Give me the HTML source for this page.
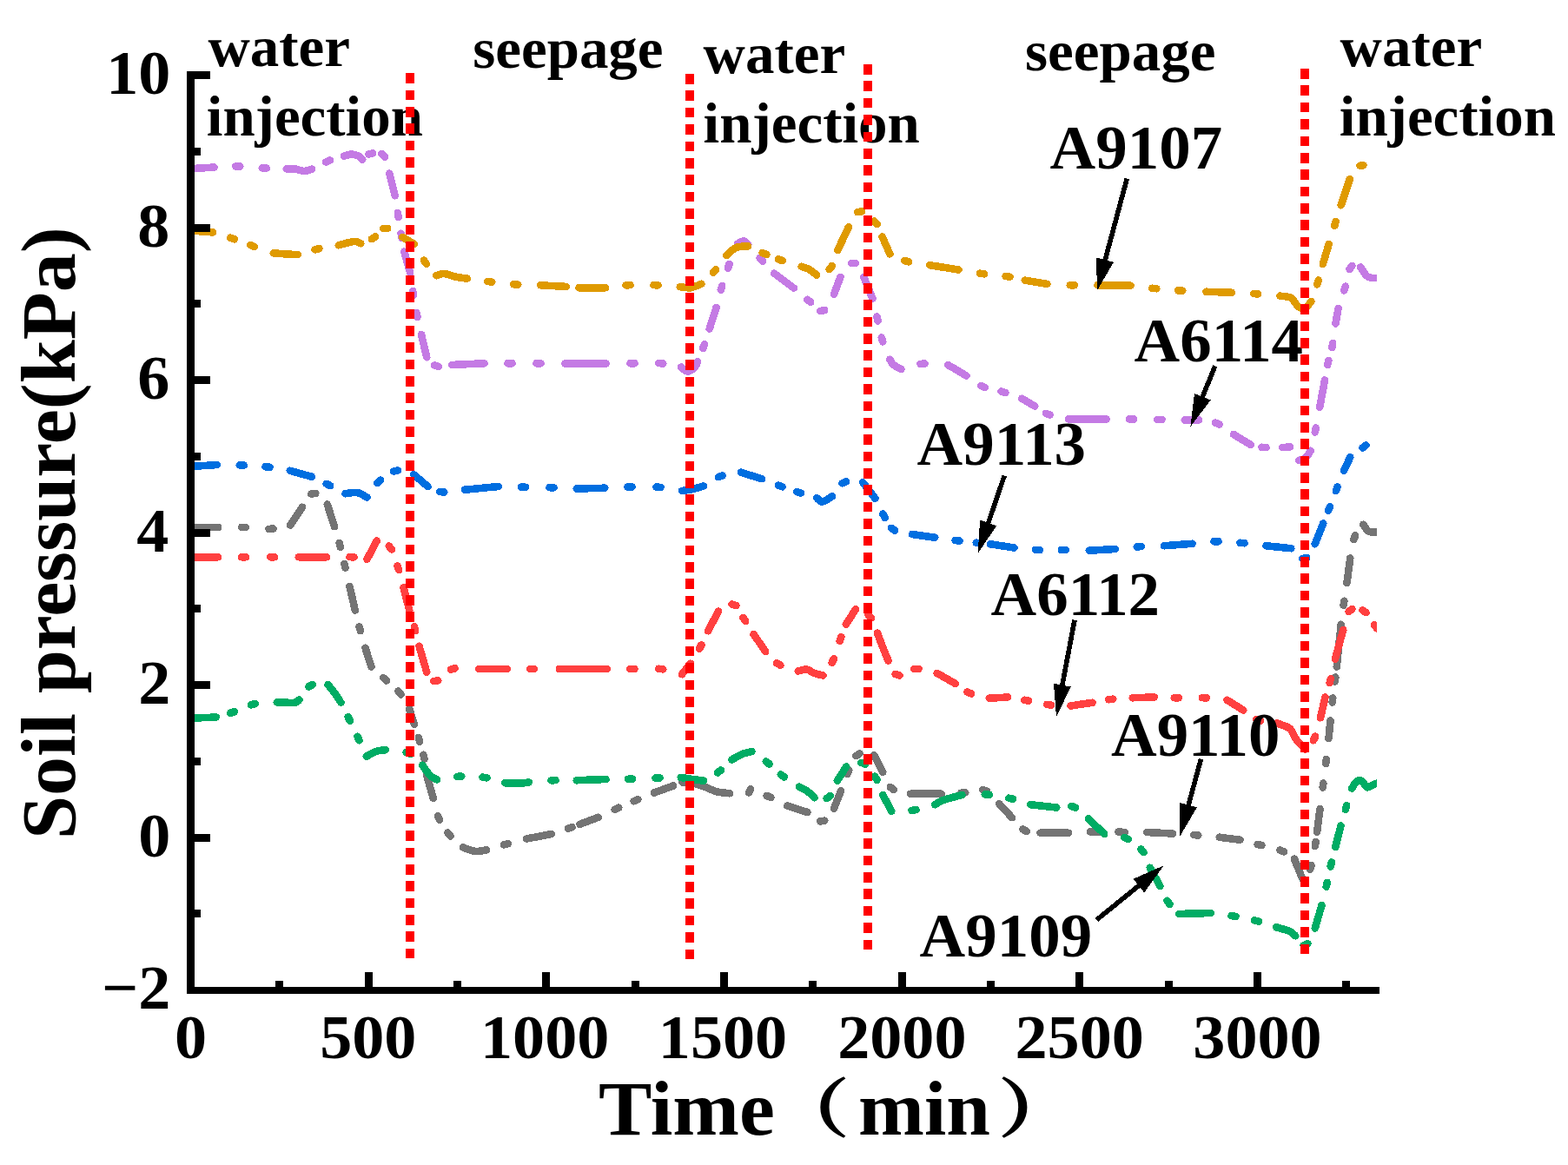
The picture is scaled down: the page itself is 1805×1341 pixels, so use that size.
<!DOCTYPE html>
<html lang="en">
<head>
<meta charset="utf-8">
<title>Soil pressure vs. time</title>
<style>
html,body{margin:0;padding:0;background:#ffffff;}
body{width:1805px;height:1341px;overflow:hidden;}
svg{display:block;}
text{font-family:"Liberation Serif","Noto Serif CJK SC",serif;font-weight:bold;fill:#000;}
.tk{font-size:72px;}
.an{font-size:65px;}
.lb{font-size:71.5px;}
.ax{font-size:88.5px;}
.tm{font-size:88.5px;}
.pr{font-size:73px;}
.pr{font-family:"Liberation Serif","Noto Serif CJK SC",serif;stroke:#000;stroke-width:1.2px;}
</style>
</head>
<body>
<svg width="1805" height="1341" viewBox="0 0 1805 1341">
<rect x="0" y="0" width="1805" height="1341" fill="#ffffff"/>
<defs><clipPath id="plot"><rect x="219" y="60" width="1366" height="1080"/></clipPath></defs>
<g id="curves" clip-path="url(#plot)" fill="none" stroke-linecap="round" stroke-linejoin="round" stroke-width="8.6" shape-rendering="crispEdges">
<path id="c-gray" stroke="#747474" d="M220 607 L251.25 607 M278 606.93 L283 607.07 M309.5 608.87 L314.5 608.63 M334.25 604.5 L348 583.75 M358.27 568.53 L363.23 567.97 M376.75 580.5 L385 606.25 M390.61 625.08 L391.89 629.92 M396.42 648.82 L397.58 653.68 M402.5 675 L408.75 702.5 M413.59 721.34 L414.91 726.16 M420.5 745.75 L427.5 767.5 M441.16 780.05 L444.84 783.45 M458.42 795.57 L461.58 799.43 M471.25 816.25 L477 833.75 M481.8 848.85 L483.2 853.65 M487.48 868.8 L488.52 873.7 M491.25 892.5 L498.75 918.75 M504 938.96 L506 943.54 M515.42 958.56 L518.58 962.44 M533 975.5 C535.42 976.25 543 979.54 547.5 980 C552 980.46 557.92 978.54 560 978.25 M580.09 972.41 L584.91 971.09 M606.25 965.5 L635 960 M653.89 953.82 L658.61 952.18 M667.5 948.75 L688.75 940.75 M707.72 931.78 L712.28 929.72 M729.7 922.23 L734.3 920.27 M753 912.5 L775 904.5 M785.5 900.5 C787.92 900.75 795.29 900.96 800 902 C804.71 903.04 809.58 905.21 813.75 906.75 C817.92 908.29 820.62 910.17 825 911.25 C829.38 912.33 837.5 912.92 840 913.25 M862 912.3 L864 908.2 M882.73 915.96 L887.27 918.04 M906.25 927.5 L929.5 935 M944.27 945.35 L949.23 944.65 M960 930.75 L968 910.5 M975.19 891.02 L977.31 886.48 M985.4 870.11 L989.6 867.39 M1006.25 869.25 L1016.25 888.75 M1024.79 905.95 L1028.71 909.05 M1048 913.75 L1083.75 913.75 M1106.26 912.69 L1111.24 912.31 M1131.36 909.27 L1136.14 910.73 M1150 925 L1165 941.25 M1177.3 954.56 L1181.7 956.94 M1197.5 958.75 L1230 958.75 M1255 957.5 L1265 958 M1287.5 957.5 L1295 958 M1320 958 L1350 959.5 M1374.26 961.05 L1379.24 961.45 M1403.75 963.75 L1427.5 966.75 M1447.58 971.86 L1452.42 973.14 M1473.43 978.56 L1478.07 980.44 M1490 988.75 C1491.46 992.29 1496.88 1005.88 1498.75 1010 C1500.62 1014.12 1500.83 1012.92 1501.25 1013.5 M1508.01 1000.89 L1509.49 996.11 M1513.81 973.96 L1514.69 969.04 M1516 958 L1519.5 931.25 M1522.68 906.48 L1523.32 901.52 M1526.2 878.98 L1526.8 874.02 M1529.5 850 L1531.5 829.5 M1533.71 808.48 L1534.29 803.52 M1536.69 784.48 L1537.31 779.52 M1538.75 767.5 L1543.75 718.75 M1546.65 696.73 L1547.35 691.77 M1550.5 671 L1554.25 642.5 M1558.35 621.08 L1560.15 616.42 M1569.25 603.75 C1570.42 605.12 1572.79 610.54 1576.25 612 C1579.71 613.46 1587.71 612.42 1590 612.5"/>
<path id="c-lred" stroke="#FF4040" d="M220 641.25 L251.25 641.25 M278 641.25 L283 641.25 M311.25 641.25 L316.25 641.25 M343.75 641.25 L376.25 641.25 M402.5 641.12 L407.5 641.38 M422.5 643.75 L433.75 622.5 M447.71 628.53 L450.79 632.47 M457.46 651.38 L459.04 656.12 M464.5 676.25 L471.25 702.5 M476.84 721.34 L478.16 726.16 M482.5 743.75 L491.25 773.75 M499.27 784.06 L504.23 783.44 M518.84 770.67 L523.66 769.33 M551.25 770 L583.75 770 M610 770 L615 770 M643.75 770 L698.75 770 M725.5 770 L730.5 770 M758.26 769.73 L763.24 770.27 M785 776.25 L795 763.75 M805.07 746.71 L807.43 742.29 M815 726.25 L827 703.75 M842.61 695.51 L847.39 696.99 M855.36 710.92 L858.14 715.08 M867.5 730 L881.25 750 M894.11 763.21 L898.39 765.79 M918.75 772.5 C920.42 772.17 925.62 770.08 928.75 770.5 C931.88 770.92 934.38 773.83 937.5 775 C940.62 776.17 945.83 777.08 947.5 777.5 M957.68 762.76 L959.82 758.24 M966.65 737.85 L968.35 733.15 M973.75 718.75 L985 701.25 M999.57 707.65 L1002.93 711.35 M1010 728.75 C1011.04 731.46 1014.17 739.71 1016.25 745 C1018.33 750.29 1021.46 757.92 1022.5 760.5 M1030.6 776.05 L1035.4 777.45 M1052.5 770.1 L1057.5 769.9 M1078.75 775 L1100 787 M1113.46 796.51 L1118.04 798.49 M1138.75 803.75 L1160 802.5 M1179.29 805.8 L1184.21 806.7 M1205.02 810.94 L1209.98 811.56 M1232.5 812.5 L1257.5 808.75 M1276.27 805.3 L1281.23 804.7 M1303.75 803.25 L1328.75 802.5 M1351.75 803.22 L1356.75 803.28 M1383.75 803.14 L1388.75 803.36 M1412.5 805.75 L1431.25 817.5 M1446.42 827.85 L1451.08 829.65 M1470 832.5 C1472.5 833.54 1481.46 835.83 1485 838.75 C1488.54 841.67 1488.33 846.04 1491.25 850 C1494.17 853.96 1500.62 860.42 1502.5 862.5 M1511.91 852.25 L1514.09 847.75 M1520 826.25 L1525.5 802.5 M1530.61 786.17 L1531.89 781.33 M1537 758.75 C1537.5 756.88 1538.46 753.12 1540 747.5 C1541.54 741.88 1545.21 728.75 1546.25 725 M1552.62 704.15 L1556.38 700.85 M1568.4 702.39 L1572.6 705.11 M1582.01 719.24 L1584.99 723.26"/>
<path id="c-blue" stroke="#006EE0" d="M220 537 L250 535 M275.75 535.39 L280.75 535.61 M305.52 537.22 L310.48 537.78 M333.75 541.75 L358.75 548.75 M375.77 556.88 L380.23 559.12 M397.5 568.25 C399.79 568.04 407.08 566.29 411.25 567 C415.42 567.71 420.62 571.58 422.5 572.5 M434.41 555.95 L438.09 552.55 M453.05 542.49 L457.95 541.51 M476.25 546.25 L492.5 560 M506.26 566.03 L511.24 566.47 M535 563.75 L573.75 560 M600 560.7 L605 560.8 M632.5 561.18 L637.5 561.32 M663.75 562.5 L696.25 561.75 M722.5 560.54 L727.5 560.46 M755.51 560.56 L760.49 560.94 M785 565 C787.08 564.67 793.33 563.92 797.5 563 C801.67 562.08 807.92 560.08 810 559.5 M826.9 549.11 L831.6 547.39 M853 543.75 L877 551.25 M895.9 558.64 L900.6 560.36 M917.12 565.98 L921.88 567.52 M940 573 C941.12 573.75 943.75 577.79 946.75 577.5 C949.75 577.21 956.12 572.29 958 571.25 M969.48 556.3 L974.02 554.2 M993 555 L1007.5 573.75 M1016.25 591.59 L1018.75 595.91 M1025.91 607.88 L1030.09 610.62 M1050 615 L1076.25 618.75 M1099.52 621.94 L1104.48 622.56 M1123.76 624.74 L1128.74 625.26 M1140 626.25 L1167.5 630.5 M1192 632.89 L1197 633.11 M1221.75 632.97 L1226.75 633.03 M1253.75 633.75 L1283.75 632 M1308.76 629.42 L1313.74 629.08 M1340 628.25 L1372.5 625.75 M1397.5 623.28 L1402.5 623.22 M1427.51 624.78 L1432.49 625.22 M1457.5 628.25 L1486.25 631.25 M1499.29 642.95 L1504.21 642.05 M1513.75 626.25 L1523.25 602.5 M1529.09 587.83 L1530.91 583.17 M1537.84 565.08 L1539.66 560.42 M1547 542 L1554.25 526.25 M1568.5 515.5 L1572.5 512.5"/>
<path id="c-green" stroke="#00AC64" d="M220 826.75 L248.75 825.5 M265.14 820.82 L269.86 819.18 M288.81 811.31 L293.69 810.19 M318.75 808.25 C322.08 808.33 334.46 809.21 338.75 808.75 C343.04 808.29 343.54 806.04 344.5 805.5 M355.29 790.42 L359.71 788.08 M377.5 788 C378.75 789.58 382.5 794.04 385 797.5 C387.5 800.96 391.25 806.88 392.5 808.75 M400.66 825.25 L402.84 829.75 M411.45 847.73 L413.55 852.27 M421.75 870.75 C423.54 869.79 428.83 866.25 432.5 865 C436.17 863.75 441.88 863.54 443.75 863.25 M467.69 866.05 L472.31 867.95 M486.25 880.75 C487.71 882.71 492.21 889.71 495 892.5 C497.79 895.29 501.67 896.67 503 897.5 M526.25 893.86 L531.25 893.64 M555.53 894.65 L560.47 895.35 M581.25 901.25 C583.96 901.33 592.92 901.88 597.5 901.75 C602.08 901.62 606.88 900.71 608.75 900.5 M634.5 898.35 L639.5 898.15 M663.75 898.25 L697.5 897 M723 896.81 L728 896.69 M754.5 895.58 L759.5 895.42 M783.75 895 C786.04 895.33 793.12 896.38 797.5 897 C801.88 897.62 807.92 898.46 810 898.75 M826 889.5 L830 886.5 M842.5 874.5 C844.38 873.46 849.92 869.83 853.75 868.25 C857.58 866.67 863.54 865.54 865.5 865 M881.79 876.45 L885.71 879.55 M898.76 891.48 L902.74 894.52 M920 905.75 C921.67 906.67 927.08 909.17 930 911.25 C932.92 913.33 936.25 917.08 937.5 918.25 M951.74 918.99 L955.76 916.01 M963.75 898.75 L974.25 882.5 M991.42 877.84 L996.08 879.66 M1006.93 893.63 L1009.57 897.87 M1016.25 915 L1026.25 933.75 M1049.53 932.87 L1054.47 932.13 M1076.25 926.25 C1077.71 925.42 1079.79 923.12 1085 921.25 C1090.21 919.38 1103.75 916.04 1107.5 915 M1133.76 914.31 L1138.74 914.69 M1161.32 918.68 L1166.18 919.82 M1186.25 926.25 L1216.25 929.5 M1233.39 927.92 L1238.11 929.58 M1253 942.5 L1271.25 960 M1293.96 963.99 L1298.54 966.01 M1313.42 977.31 L1316.58 981.19 M1323.75 998.75 L1335.5 1020 M1343.58 1036.69 L1346.42 1040.81 M1357.5 1052 C1360.42 1051.92 1368.96 1051.67 1375 1051.5 C1381.04 1051.33 1390.62 1051.08 1393.75 1051 M1417.54 1054.08 L1422.46 1054.92 M1444.08 1059.37 L1448.92 1060.63 M1469.25 1067.25 C1471.88 1068.08 1481.33 1070.58 1485 1072.25 C1488.67 1073.92 1490.21 1076.42 1491.25 1077.25 M1500.67 1088.16 L1505.33 1086.34 M1513.75 1068.5 L1521.5 1042 M1526.69 1020.69 L1527.81 1015.81 M1531.69 997.44 L1532.81 992.56 M1537.25 975 L1543.5 950.5 M1548.79 931.9 L1550.21 927.1 M1556.25 907.5 C1557.08 906.25 1559.38 901.46 1561.25 900 C1563.12 898.54 1565.42 897.71 1567.5 898.75 C1569.58 899.79 1571.46 905.54 1573.75 906.25 C1576.04 906.96 1578.54 904.04 1581.25 903 C1583.96 901.96 1588.54 900.5 1590 900"/>
<path id="c-purple" stroke="#C47AE4" d="M220 194.2 L246.5 192.56 M271.25 191.46 L276.25 191.54 M301.75 193.38 L306.75 193.62 M329.75 194.27 C331.46 194.31 336.62 194.05 340 194.5 C343.38 194.95 346.83 196.96 350 197 C353.17 197.04 357.52 195.12 359.03 194.74 M375.19 186.46 L379.81 184.54 M395.97 179.76 C397.48 179.38 402.25 177.54 405 177.5 C407.75 177.46 410.46 178.48 412.5 179.5 C414.54 180.52 416.45 182.91 417.24 183.6 M424.32 177.58 L429.18 176.42 M439.5 176.96 L443 180.54 M448.25 199.72 L454.75 225.28 M457.87 245.03 L458.63 249.97 M461.6 268.78 L462.4 273.72 M465.27 289.71 L472.23 314.04 M475.11 335.03 L475.89 339.97 M479.51 360.05 L480.49 364.95 M485 385 L491.25 411.25 M500.11 420.52 L504.89 421.98 M520 420 L557.5 418.25 M584.5 418.25 L589.5 418.25 M617.5 418.24 L622.5 418.26 M650.35 418.45 L697.65 418.45 M725.5 418.26 L730.5 418.24 M758.26 418.06 L763.24 418.44 M784 422.5 C785.25 423.33 788.83 427.5 791.5 427.5 C794.17 427.5 798.08 424.38 800 422.5 C801.92 420.62 802.5 417.29 803 416.25 M809.14 401.1 L810.86 396.4 M816.7 378.57 L824.55 353.93 M829.79 333.65 L831.21 328.85 M837.95 308.62 L839.55 303.88 M848.88 280.66 C850.11 280.13 854.18 277.35 856.25 277.5 C858.32 277.65 860.48 280.89 861.33 281.56 M874.6 296.87 L877.9 300.63 M891.2 314.65 L913.8 331.6 M929.29 344.7 L933.21 347.8 M944.31 358.04 L949.19 356.96 M960.03 338.6 L967.47 318.9 M980 303 L985 303 M994.32 318.89 L1004.43 343.61 M1009.44 364.56 L1010.56 369.44 M1014.77 388.61 L1016.23 393.39 M1024.25 413.75 C1025 414.79 1026.54 418.12 1028.75 420 C1030.96 421.88 1036.04 424.17 1037.5 425 M1059.51 418.98 L1064.49 418.52 M1091.25 420 L1112.5 432.5 M1128.96 443.99 L1133.54 446.01 M1152.61 450.52 L1157.39 451.98 M1176.25 458.75 L1191.25 467.5 M1203.92 475.85 L1208.58 477.65 M1230 482.5 L1273.75 482.5 M1300 482.48 L1305 482.52 M1332.5 482.96 L1337.5 483.04 M1363.75 483.5 L1380 483.5 M1398.94 486.55 L1403.56 488.45 M1420 500 L1440 512 M1452.51 514.79 L1457.49 515.21 M1476.25 515 L1485 514.5 M1495 530 C1496.25 529.58 1500.21 529.38 1502.5 527.5 C1504.79 525.62 1507.71 520.21 1508.75 518.75 M1513.74 497.45 L1514.76 492.55 M1519.25 468.75 L1525 437.5 M1528.22 419.94 L1529.28 415.06 M1533.27 399.95 L1534.23 395.05 M1537.5 372.5 L1540.5 355 M1547.26 334.39 L1548.74 329.61 M1553.51 310 L1556.49 306 M1566.25 307.5 C1567.71 309.38 1571.04 316.67 1575 318.75 C1578.96 320.83 1587.5 319.79 1590 320"/>
<path id="c-orange" stroke="#DF9A00" d="M220 265.5 L245 267.42 M265.14 273.68 L269.86 275.32 M288.15 282.15 L292.85 283.85 M314.75 291.33 C317.29 291.52 325.33 292.19 330 292.5 C334.67 292.81 340.63 293.08 342.75 293.2 M362.57 287.33 L367.43 286.17 M389.72 282.27 C392.69 281.56 403.24 278.34 407.5 278 C411.76 277.66 413.99 279.85 415.29 280.23 M427.89 275.09 L432.11 272.41 M441.25 263.1 L446.25 262.9 M463.36 273 L476.64 280.75 M488.13 299.66 L490.87 303.84 M502.22 317.26 C503.73 316.88 507.45 314.75 511.25 315 C515.05 315.25 520.58 317.82 525 318.75 C529.42 319.68 535.63 320.3 537.76 320.61 M561.27 323.95 L566.23 324.55 M591.26 327.33 L596.24 327.67 M622.25 328.31 L652 329.94 M666.5 331.25 L697.25 331.25 M720.5 328.38 L725.5 328.12 M752.5 328.17 L757.5 328.33 M782.74 330.14 C784.79 330.32 790.9 331.81 795 331.25 C799.1 330.69 805.28 327.51 807.34 326.76 M820.89 313.91 L824.11 310.09 M836.17 294.06 C838.06 292.55 843.36 286.77 847.5 285 C851.64 283.23 858.76 283.69 861.01 283.42 M877.72 290.98 L882.28 293.02 M895.89 298.43 L900.61 300.07 M922.65 306.78 C924.09 307.31 928.35 308.36 931.25 310 C934.15 311.64 938.58 315.5 940.05 316.6 M954.69 309.96 L957.81 306.04 M964.39 287.89 L976.86 261.36 M987.02 244.06 L991.98 243.44 M1006.3 254.42 L1009.7 258.08 M1015.61 272.62 L1024.39 292.38 M1041.33 300.13 L1046.17 301.37 M1070.23 305.23 L1103.52 310.52 M1128.02 314.66 L1132.98 315.34 M1157.53 317.87 L1162.47 318.63 M1179.74 322.66 L1205.26 326.84 M1231.75 328.19 L1236.75 328.31 M1263.5 328.26 L1301.5 328.74 M1326.26 331.75 L1331.24 332.25 M1356.26 334.34 L1361.24 334.66 M1388.5 335.78 L1417.75 336.72 M1443.01 338.08 L1447.99 338.42 M1473.48 340.68 C1475.61 341.07 1482.75 340.95 1486.25 343 C1489.75 345.05 1491.79 351.08 1494.5 353 C1497.21 354.92 1500.03 355.5 1502.5 354.5 C1504.97 353.5 1508.19 348.24 1509.33 346.99 M1516.27 327.39 L1517.73 322.61 M1522.79 304.04 L1529.71 280.96 M1536.25 259.88 L1537.75 255.12 M1543.75 236.25 L1553.75 206.25 M1565.6 190.7 L1569.4 190.3"/>
</g>
<g id="notes">
<text id="t-w1" class="an" text-anchor="start" transform="translate(239.4 75.5) scale(1.03 1)">water</text>
<text id="t-i1" class="an" text-anchor="start" transform="translate(237.8 156) scale(1.03 1)">injection</text>
<text id="t-s1" class="an" text-anchor="start" transform="translate(544.2 78.3) scale(1.03 1)">seepage</text>
<text id="t-w2" class="an" text-anchor="start" transform="translate(809.6 83.8) scale(1.03 1)">water</text>
<text id="t-i2" class="an" text-anchor="start" transform="translate(809.6 163.9) scale(1.03 1)">injection</text>
<text id="t-s2" class="an" text-anchor="start" transform="translate(1180 80.5) scale(1.03 1)">seepage</text>
<text id="t-w3" class="an" text-anchor="start" transform="translate(1542.6 75.5) scale(1.03 1)">water</text>
<text id="t-i3" class="an" text-anchor="start" transform="translate(1541.8 156) scale(1.03 1)">injection</text>
<text id="t-l1" class="lb" text-anchor="start" transform="translate(1208.6 193.75) scale(1.02 1)">A9107</text>
<text id="t-l2" class="lb" text-anchor="start" transform="translate(1305.6 415.5) scale(1.02 1)">A6114</text>
<text id="t-l3" class="lb" text-anchor="start" transform="translate(1055.6 535) scale(1.02 1)">A9113</text>
<text id="t-l4" class="lb" text-anchor="start" transform="translate(1140.6 707.5) scale(1.02 1)">A6112</text>
<text id="t-l5" class="lb" text-anchor="start" transform="translate(1279 870) scale(1.02 1)">A9110</text>
<text id="t-l6" class="lb" text-anchor="start" transform="translate(1058.6 1101) scale(1.02 1)">A9109</text>
</g>
<g id="arrows" fill="#000" stroke="#000" shape-rendering="crispEdges">
<line x1="1297.3" y1="205.5" x2="1271.66" y2="301.19" stroke-width="5.6"/><polygon stroke="none" points="1262.6,335 1262.42,296.65 1281.93,301.87"/>
<line x1="1398.75" y1="421.25" x2="1383.58" y2="458.58" stroke-width="5.6"/><polygon stroke="none" points="1370.4,491 1374.98,452.92 1393.69,460.53"/>
<line x1="1156.25" y1="547.5" x2="1137.02" y2="603.78" stroke-width="5.6"/><polygon stroke="none" points="1125.7,636.9 1128.11,598.62 1147.22,605.15"/>
<line x1="1237" y1="713.75" x2="1222.49" y2="790.61" stroke-width="5.6"/><polygon stroke="none" points="1216,825 1212.94,786.77 1232.79,790.52"/>
<line x1="1382.5" y1="873.75" x2="1367.58" y2="928.63" stroke-width="5.6"/><polygon stroke="none" points="1358.4,962.4 1358.36,924.05 1377.85,929.35"/>
<line x1="1262.5" y1="1058.75" x2="1312.4" y2="1018.33" stroke-width="5.6"/><polygon stroke="none" points="1339.6,996.3 1317.21,1027.44 1304.49,1011.74"/>
</g>
<g id="phases" shape-rendering="crispEdges" stroke="#ff0000" stroke-width="10" stroke-dasharray="11.7 7.675" fill="none">
<line x1="472.25" y1="84.25" x2="472.25" y2="1103.45"/>
<line x1="794.3" y1="85" x2="794.3" y2="1104.2"/>
<line x1="999.2" y1="74" x2="999.2" y2="1093.2"/>
<line x1="1502" y1="79" x2="1502" y2="1098.2"/>
</g>
<g id="axes" fill="#000" shape-rendering="crispEdges">
<rect x="215" y="82" width="9" height="1062"/>
<rect x="215" y="1136" width="1373" height="8"/>
<rect x="223" y="1047.25" width="8" height="9"/><rect x="223" y="959.5" width="19" height="9"/><rect x="223" y="871.75" width="8" height="9"/><rect x="223" y="784" width="19" height="9"/><rect x="223" y="696.25" width="8" height="9"/><rect x="223" y="608.5" width="19" height="9"/><rect x="223" y="520.75" width="8" height="9"/><rect x="223" y="433" width="19" height="9"/><rect x="223" y="345.25" width="8" height="9"/><rect x="223" y="257.5" width="19" height="9"/><rect x="223" y="169.75" width="8" height="9"/><rect x="223" y="82" width="19" height="9"/>
<rect x="317.33" y="1129" width="9" height="8"/><rect x="419.67" y="1119" width="9" height="18"/><rect x="522" y="1129" width="9" height="8"/><rect x="624.33" y="1119" width="9" height="18"/><rect x="726.66" y="1129" width="9" height="8"/><rect x="829" y="1119" width="9" height="18"/><rect x="931.33" y="1129" width="9" height="8"/><rect x="1033.66" y="1119" width="9" height="18"/><rect x="1135.99" y="1129" width="9" height="8"/><rect x="1238.33" y="1119" width="9" height="18"/><rect x="1340.66" y="1129" width="9" height="8"/><rect x="1442.99" y="1119" width="9" height="18"/><rect x="1545.32" y="1129" width="9" height="8"/>
</g>
<g id="labels">
<text id="t-y-2" class="tk" text-anchor="end" transform="translate(196.4 1161.1) scale(1.03 1)">−2</text>
<text id="t-y0" class="tk" text-anchor="end" transform="translate(196.4 985.6) scale(1.03 1)">0</text>
<text id="t-y2" class="tk" text-anchor="end" transform="translate(196.4 810.1) scale(1.03 1)">2</text>
<text id="t-y4" class="tk" text-anchor="end" transform="translate(194.4 634.6) scale(1.03 1)">4</text>
<text id="t-y6" class="tk" text-anchor="end" transform="translate(195.4 459.1) scale(1.03 1)">6</text>
<text id="t-y8" class="tk" text-anchor="end" transform="translate(195.4 283.6) scale(1.03 1)">8</text>
<text id="t-y10" class="tk" text-anchor="end" transform="translate(196.4 108.1) scale(1.03 1)">10</text>
<text id="t-x0" class="tk" text-anchor="middle" transform="translate(219.5 1218) scale(1.03 1)">0</text>
<text id="t-x500" class="tk" text-anchor="middle" transform="translate(423.83 1218) scale(1.03 1)">500</text>
<text id="t-x1000" class="tk" text-anchor="middle" transform="translate(627.16 1218) scale(1.03 1)">1000</text>
<text id="t-x1500" class="tk" text-anchor="middle" transform="translate(831.99 1218) scale(1.03 1)">1500</text>
<text id="t-x2000" class="tk" text-anchor="middle" transform="translate(1038.32 1218) scale(1.03 1)">2000</text>
<text id="t-x2500" class="tk" text-anchor="middle" transform="translate(1242.65 1218) scale(1.03 1)">2500</text>
<text id="t-x3000" class="tk" text-anchor="middle" transform="translate(1447.48 1218) scale(1.03 1)">3000</text>
<text id="t-tt" class="tm" text-anchor="start" transform="translate(689 1306) scale(1.04 1)">Time</text>
<text id="t-lp" class="pr" text-anchor="start" transform="translate(886.4 1301.5) scale(1.25 1)">（</text>
<text id="t-mn" class="ax" text-anchor="start" transform="translate(988 1306) scale(1.03 1)">min</text>
<text id="t-rp" class="pr" text-anchor="start" transform="translate(1149 1301.5) scale(1.25 1)">）</text>
<text id="t-yt" class="ax" text-anchor="middle" transform="translate(85.8 613.6) rotate(-90) scale(1.018 1)">Soil pressure(kPa)</text>
</g>
</svg>
</body>
</html>
